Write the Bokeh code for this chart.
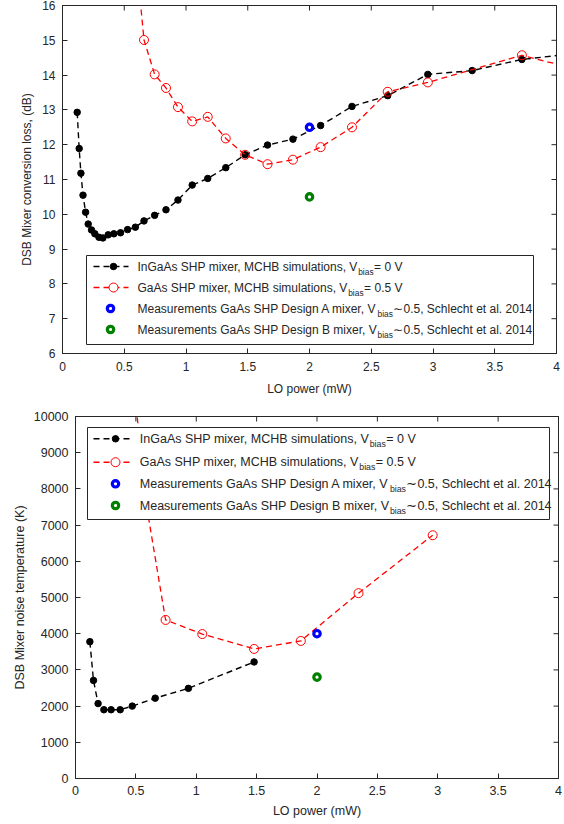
from bokeh.plotting import figure
from bokeh.models import Range1d, FixedTicker, NumeralTickFormatter
from bokeh.layouts import column
from bokeh.core.properties import value
from bokeh.embed import file_html
from bokeh.resources import INLINE

# ---------------- data ----------------
X_TICKS = [0, 0.5, 1, 1.5, 2, 2.5, 3, 3.5, 4]
Y1_TICKS = [6, 7, 8, 9, 10, 11, 12, 13, 14, 15, 16]
Y2_TICKS = [0, 1000, 2000, 3000, 4000, 5000, 6000, 7000, 8000, 9000, 10000]

# Conversion loss (dB) vs LO power (mW)
ingaas_cl_x = [0.119, 0.135, 0.149, 0.166, 0.187, 0.208, 0.235, 0.262, 0.295, 0.327,
               0.37, 0.416, 0.47, 0.527, 0.59, 0.66, 0.746, 0.838, 0.935, 1.05,
               1.176, 1.322, 1.479, 1.66, 1.866, 2.09, 2.344, 2.633, 2.958, 3.317,
               3.72, 4.1]
ingaas_cl_y = [12.93, 11.89, 11.18, 10.55, 10.06, 9.72, 9.55, 9.44, 9.34, 9.32,
               9.41, 9.44, 9.47, 9.56, 9.63, 9.81, 9.97, 10.13, 10.41, 10.84,
               11.03, 11.34, 11.71, 11.99, 12.16, 12.55, 13.10, 13.41, 14.02, 14.13,
               14.45, 14.60]
gaas_cl_x = [0.59, 0.66, 0.746, 0.838, 0.935, 1.05, 1.176, 1.322, 1.479, 1.66,
             1.866, 2.09, 2.344, 2.633, 2.958, 3.72, 4.15]
gaas_cl_y = [17.6, 15.01, 14.02, 13.63, 13.08, 12.67, 12.80, 12.18, 11.71, 11.44,
             11.57, 11.93, 12.50, 13.52, 13.79, 14.57, 14.18]

# Noise temperature (K) vs LO power (mW)
ingaas_tn_x = [0.119, 0.149, 0.187, 0.235, 0.295, 0.37, 0.47, 0.66, 0.935, 1.479]
ingaas_tn_y = [3780, 2710, 2070, 1900, 1900, 1900, 2000, 2220, 2490, 3220]
gaas_tn_x = [0.45, 0.59, 0.746, 1.05, 1.479, 1.866, 2.344, 2.958]
gaas_tn_y = [11900, 7500, 4380, 3990, 3580, 3800, 5120, 6720]

meas_x = [2.0]
meas_a_cl = [12.5]
meas_b_cl = [10.5]
meas_a_tn = [4000]
meas_b_tn = [2800]

LEG_MAIN = ["InGaAs SHP mixer, MCHB simulations, V",
            "GaAs SHP mixer, MCHB simulations, V",
            "Measurements GaAs SHP Design A mixer, V",
            "Measurements GaAs SHP Design B mixer, V"]
LEG_SUB = "bias"
LEG_TAIL = ["= 0 V", "= 0.5 V",
            "\u223c0.5, Schlecht et al. 2014",
            "\u223c0.5, Schlecht et al. 2014"]

# ---------------- style ----------------
FONT = "Liberation Sans"
AX = "#262626"
BLUE = "#0000FF"
GREEN = "#008000"
DASH = "6 4"
TICK = 5

ARIAL = {' ': 278, ',': 278, '.': 278, '=': 584, '~': 584, '(': 333, ')': 333,
         'A': 667, 'B': 667, 'C': 722, 'D': 722, 'G': 778, 'H': 722, 'I': 278,
         'M': 833, 'P': 667, 'S': 667, 'V': 667,
         'a': 556, 'b': 556, 'c': 500, 'e': 556, 'g': 556, 'h': 556, 'i': 222,
         'l': 222, 'm': 833, 'n': 556, 'o': 556, 'r': 333, 's': 500, 't': 278,
         'u': 556, 'x': 500}


def tw(s, size):
    return sum(ARIAL.get(c, 556) for c in s) / 1000.0 * size


def style_axis(ax, fs):
    ax.axis_line_color = AX
    ax.axis_line_width = 1
    ax.major_tick_line_color = AX
    ax.major_tick_in = TICK
    ax.major_tick_out = 0
    ax.minor_tick_line_color = None
    ax.major_label_text_font = FONT
    ax.major_label_text_color = AX
    ax.major_label_text_font_size = f"{fs}px"
    ax.axis_label_text_font = FONT
    ax.axis_label_text_font_size = f"{fs}px"
    ax.axis_label_text_font_style = "normal"
    ax.axis_label_text_color = AX


def make_fig(fw, fh, left, right, top, bottom, yr, yticks, ylabel, fs, yfmt,
             xstand, xlstand, ystand, ylstand):
    p = figure(frame_width=fw, frame_height=fh,
               min_border_left=left, min_border_right=right,
               min_border_top=top, min_border_bottom=bottom,
               x_range=Range1d(0, 4), y_range=Range1d(*yr),
               output_backend="svg", toolbar_location=None)
    p.frame_align = False
    p.extra_x_ranges = {"px": Range1d(0, fw)}
    p.extra_y_ranges = {"px": Range1d(0, fh)}
    p.grid.visible = False
    p.outline_line_color = AX
    p.outline_line_width = 1
    p.background_fill_color = "white"
    p.border_fill_color = "white"
    p.xaxis.ticker = FixedTicker(ticks=X_TICKS)
    p.yaxis.ticker = FixedTicker(ticks=yticks)
    p.xaxis.formatter = NumeralTickFormatter(format="0.[0]")
    p.yaxis.formatter = NumeralTickFormatter(format=yfmt)
    p.xaxis.axis_label = "LO power (mW)"
    p.yaxis.axis_label = ylabel
    for ax in p.xaxis + p.yaxis:
        style_axis(ax, fs)
    p.xaxis.major_label_standoff = xstand
    p.xaxis.axis_label_standoff = xlstand
    p.yaxis.major_label_standoff = ystand
    p.yaxis.axis_label_standoff = ylstand
    # inward ticks on the top and right edges of the box
    n = len(X_TICKS)
    p.segment(x0=X_TICKS, x1=X_TICKS, y0=[fh] * n, y1=[fh - TICK] * n,
              y_range_name="px", line_color=AX, line_width=1, level="overlay")
    m = len(yticks)
    p.segment(x0=[fw] * m, x1=[fw - TICK] * m, y0=yticks, y1=yticks,
              x_range_name="px", line_color=AX, line_width=1, level="overlay")
    return p


def draw_series(p, bx, by, rx, ry, ma, mb):
    p.line(bx, by, line_color="black", line_dash=DASH, line_width=1.4)
    p.scatter(bx, by, marker="circle", size=6.5, fill_color="black", line_color="black")
    p.line(rx, ry, line_color="red", line_dash=DASH, line_width=1.3)
    p.scatter(rx, ry, marker="circle", size=9, fill_color=None, line_color="red", line_width=1)
    p.scatter(meas_x, ma, marker="circle", size=6.4, fill_color="white",
              line_color=BLUE, line_width=3.2)
    p.scatter(meas_x, mb, marker="circle", size=6.4, fill_color="white",
              line_color=GREEN, line_width=3.2)


def add_legend(p, fh, fs, box, rows, x_text, lx0, lx1, mx_line, mx_meas):
    # positions in frame pixels, measured from the frame's top-left corner
    l, r, t, b = box
    kw = dict(x_range_name="px", y_range_name="px", level="overlay")
    p.quad(left=[l], right=[r], top=[fh - t], bottom=[fh - b], fill_color="white",
           line_color=AX, line_width=1, **kw)
    ys = [fh - y for y in rows]
    for i, col in enumerate(["black", "red"]):
        p.line([lx0, lx1], [ys[i], ys[i]], line_color=col, line_dash=DASH,
               line_width=1.4, **kw)
    p.scatter([mx_line], [ys[0]], marker="circle", size=6.5, fill_color="black",
              line_color="black", **kw)
    p.scatter([mx_line], [ys[1]], marker="circle", size=9, fill_color="white",
              line_color="red", line_width=1, **kw)
    p.scatter([mx_meas], [ys[2]], marker="circle", size=6.4, fill_color="white",
              line_color=BLUE, line_width=3.2, **kw)
    p.scatter([mx_meas], [ys[3]], marker="circle", size=6.4, fill_color="white",
              line_color=GREEN, line_width=3.2, **kw)
    sub_fs = fs * 0.7
    xs_sub = [x_text + tw(s, fs) for s in LEG_MAIN]
    xs_tail = [xs + tw(LEG_SUB, sub_fs) + 0.5 for xs in xs_sub]
    tkw = dict(text_font=value(FONT), text_color=AX, text_baseline="middle",
               text_align="left", **kw)
    p.text([x_text] * 4, ys, text=LEG_MAIN, text_font_size=value(f"{fs}px"), **tkw)
    p.text(xs_sub, [y - 5 for y in ys], text=[LEG_SUB] * 4,
           text_font_size=value(f"{sub_fs:.2f}px"), **tkw)
    p.text(xs_tail, ys, text=LEG_TAIL, text_font_size=value(f"{fs}px"), **tkw)


# ---------------- top: conversion loss ----------------
FW1, FH1 = 494, 348
p1 = make_fig(FW1, FH1, 62, 8, 5, 45, (6, 16), Y1_TICKS,
              "DSB Mixer conversion loss, (dB)", 12, "0", 8, 8, 7, 5)
draw_series(p1, ingaas_cl_x, ingaas_cl_y, gaas_cl_x, gaas_cl_y, meas_a_cl, meas_b_cl)
add_legend(p1, FH1, 12, (24, 471, 250, 339), [261, 282, 303, 324], 75, 31, 66, 51, 48)

# ---------------- bottom: noise temperature ----------------
FW2, FH2 = 483, 362
p2 = make_fig(FW2, FH2, 75, 6, 18, 46, (0, 10000), Y2_TICKS,
              "DSB Mixer noise temperature (K)", 12.5, "0", 7, 6, 7, 4)
draw_series(p2, ingaas_tn_x, ingaas_tn_y, gaas_tn_x, gaas_tn_y, meas_a_tn, meas_b_tn)
add_legend(p2, FH2, 12.5, (12, 474, 11, 103), [22.3, 45.7, 67.3, 89], 64.3, 18, 57, 40, 40)

layout = column(p1, p2)
open("out.html", "w").write(file_html(layout, INLINE))
